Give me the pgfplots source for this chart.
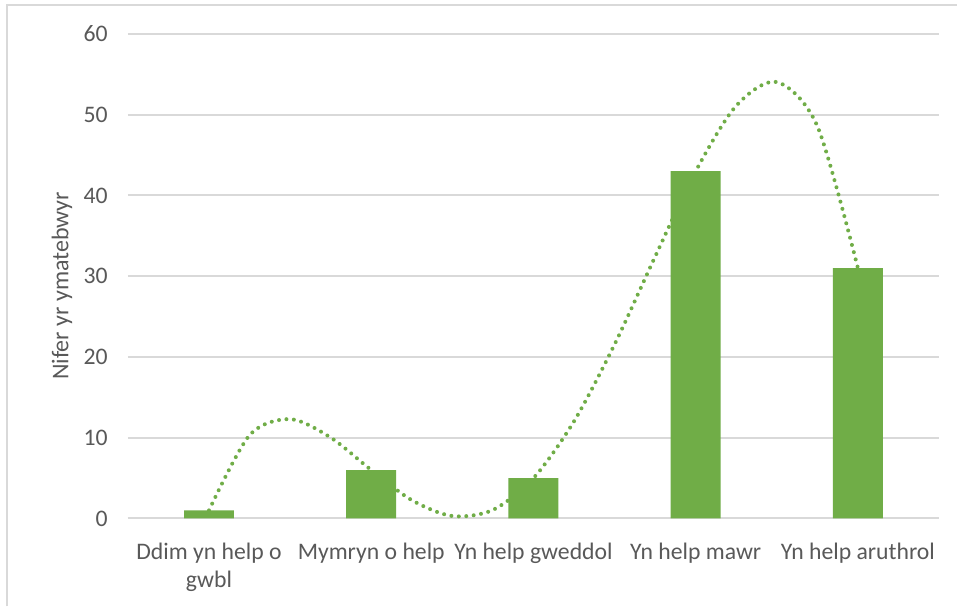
\documentclass[border=0pt]{standalone}
\usepackage{pgfplots}
\pgfplotsset{compat=1.18}
\usepackage{pgfplotstable}
\usepackage{fontspec}
\setmainfont{Carlito}
\definecolor{bargreen}{HTML}{70AD47}
\definecolor{gridgray}{HTML}{D9D9D9}
\definecolor{textgray}{HTML}{595959}
\pgfplotstableread{
x y
0 1
1 6
2 5
3 43
4 31
}\bars
\pgfplotstableread{
x y
0 1
0.25 10.31
0.5 12.30
0.75 10.02
1 6
1.25 2.27
1.5 0.30
1.75 1.06
2 5
2.25 12.03
2.5 21.55
2.75 32.42
3 43
3.25 51.11
3.5 54.05
3.75 48.59
4 31
}\trend
\begin{document}
\begin{tikzpicture}
\fill[white] (0,0) rectangle (718.5pt,455.25pt);
\draw[gridgray, line width=1.5pt] (5.25pt,0) -- (5.25pt,451.5pt) -- (718.5pt,451.5pt);
\begin{axis}[
  at={(96pt,66pt)}, anchor=south west,
  scale only axis, width=609pt, height=363.75pt,
  xmin=-0.5, xmax=4.5, ymin=0, ymax=60,
  ytick={0,10,...,60},
  xtick={0,1,2,3,4},
  xticklabels={{Ddim yn help o\\gwbl},{Mymryn o help},{Yn help gweddol},{Yn help mawr},{Yn help aruthrol}},
  axis x line*=bottom, axis y line*=left,
  x axis line style={gridgray, line width=1.5pt, -},
  y axis line style={draw=none},
  major tick length=0pt,
  ymajorgrids, grid style={gridgray, line width=1.5pt},
  tick label style={font=\fontsize{17.8pt}{21.5pt}\selectfont, text=textgray, inner sep=0pt},
  /pgf/number format/assume math mode=true,
  yticklabel style={anchor=east, xshift=-15pt},
  xticklabel style={anchor=north, yshift=-18pt, align=center},
  ylabel={Nifer yr ymatebwyr},
  ylabel style={at={(axis description cs:-0.0813,0.48)}, anchor=center, rotate=0, font=\fontsize{18pt}{21.5pt}\selectfont, text=textgray},
  clip=false,
]
\addplot[ybar, bar width=37.5pt, fill=bargreen, draw=none] table[x=x,y=y]{\bars};
\addplot[bargreen, smooth, line width=3pt, line cap=round, dash pattern=on 0pt off 5.6pt, mark=none] table[x=x,y=y]{\trend};
\end{axis}
\end{tikzpicture}
\end{document}
